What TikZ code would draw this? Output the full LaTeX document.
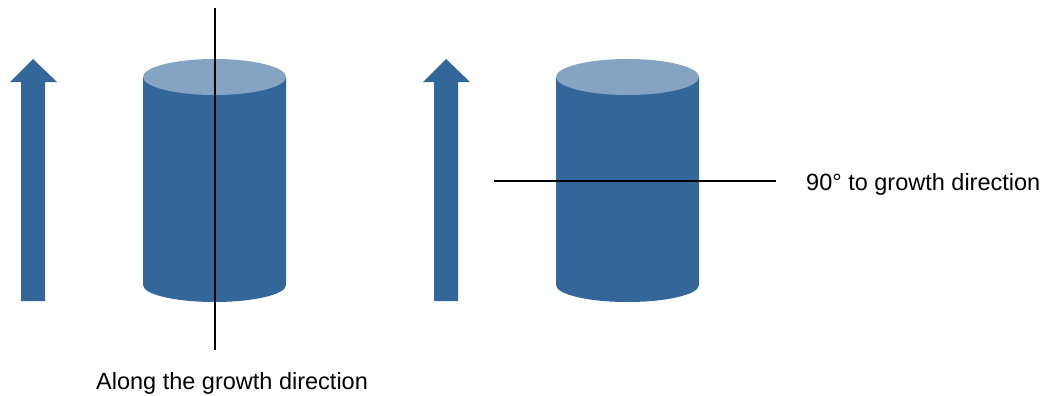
\documentclass[tikz,border=0pt]{standalone}
\usepackage{fontspec}
\setmainfont{Liberation Sans}
\definecolor{rodblue}{HTML}{336699}
\definecolor{rodtop}{HTML}{85A4C4}
\begin{document}
\begin{tikzpicture}[
        x=1pt, y=-1pt,
        growth/.style={fill=rodblue, draw=none},
        cut/.style={black, line width=2pt},
        caption/.style={anchor=base west, inner sep=0pt, font=\fontsize{23.5}{28}\selectfont}
    ]
        \useasboundingbox (0,0) rectangle (1041,396);

        % Mũi tên và trụ (hai bản, lệch nhau 413)
        \foreach \dx in {0,413} {
            \fill[growth] (\dx+21,301) -- (\dx+21,82) -- (\dx+10,82) -- (\dx+33,59)
                -- (\dx+57,82) -- (\dx+45,82) -- (\dx+45,301) -- cycle;
            \fill[growth] (\dx+143,77) -- (\dx+143,285)
                arc[start angle=180, end angle=0, x radius=71.5, y radius=17]
                -- (\dx+286,77) -- cycle;
            \fill[rodtop] (\dx+214.5,77) ellipse[x radius=71.5, y radius=18];
        }

        % Đường cắt
        \coordinate (vtop) at (215,8);
        \coordinate (vbot) at (215,350);
        \coordinate (hleft) at (494,181);
        \coordinate (hright) at (776,181);
        \draw[cut] (vtop) -- (vbot);
        \draw[cut] (hleft) -- (hright);

        % Chữ
        \node[caption] (along) at (96,389) {Along the growth direction};
        \node[caption] (perp) at (806,190) {90° to growth direction};
    \end{tikzpicture}
\end{document}
